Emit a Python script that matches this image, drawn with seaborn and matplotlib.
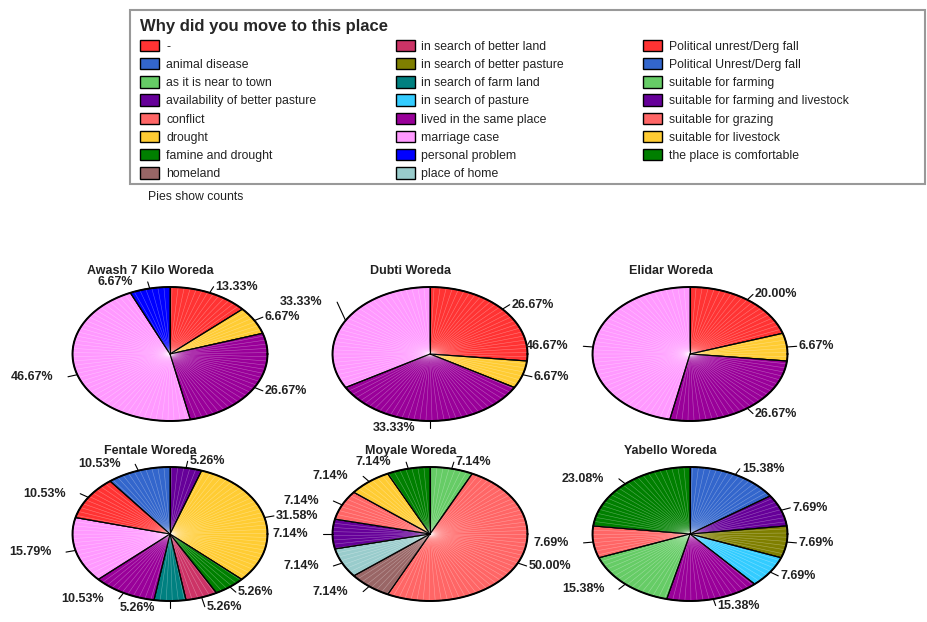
import numpy as np
import matplotlib
matplotlib.use("Agg")
import matplotlib.pyplot as plt
from matplotlib.patches import Patch, Rectangle
from matplotlib.collections import LineCollection
import seaborn as sns

# legend categories (alphabetical, as in the source)
categories = ["-", "animal disease", "as it is near to town", "availability of better pasture",
              "conflict", "drought", "famine and drought", "homeland",
              "in search of better land", "in search of better pasture", "in search of farm land",
              "in search of pasture", "lived in the same place", "marriage case",
              "personal problem", "place of home",
              "Political unrest/Derg fall", "Political Unrest/Derg fall", "suitable for farming",
              "suitable for farming and livestock", "suitable for grazing",
              "suitable for livestock", "the place is comfortable"]
base_colors = ["#FF3333", "#3366CC", "#66CC66", "#660099", "#FF6666", "#FFCC33", "#007F00",
               "#996666", "#CC3366", "#7F7F00", "#008080", "#33CCFF", "#990099", "#FF99FF",
               "#0000FF", "#99CCCC"]

# counts per woreda (pies show counts)
awash_cats = ["-", "drought", "lived in the same place", "marriage case", "personal problem"]
awash_counts = [2, 1, 4, 7, 1]
dubti_cats = ["-", "drought", "lived in the same place", "marriage case"]
dubti_counts = [4, 1, 5, 5]
elidar_cats = ["-", "drought", "lived in the same place", "marriage case"]
elidar_counts = [3, 1, 4, 7]
fentale_cats = ["availability of better pasture", "drought", "famine and drought",
                "in search of better land", "in search of farm land", "lived in the same place",
                "marriage case", "Political unrest/Derg fall", "Political Unrest/Derg fall"]
fentale_counts = [1, 6, 1, 1, 1, 2, 3, 2, 2]
moyale_cats = ["as it is near to town", "conflict", "homeland", "place of home",
               "suitable for farming and livestock", "suitable for grazing",
               "suitable for livestock", "the place is comfortable"]
moyale_counts = [1, 7, 1, 1, 1, 1, 1, 1]
yabello_cats = ["animal disease", "availability of better pasture", "in search of better pasture",
                "in search of pasture", "lived in the same place", "suitable for farming",
                "suitable for grazing", "the place is comfortable"]
yabello_counts = [2, 1, 1, 1, 2, 2, 1, 3]

woredas = ["Awash 7 Kilo Woreda", "Dubti Woreda", "Elidar Woreda",
           "Fentale Woreda", "Moyale Woreda", "Yabello Woreda"]
pie_cats = [awash_cats, dubti_cats, elidar_cats, fentale_cats, moyale_cats, yabello_cats]
pie_counts = [awash_counts, dubti_counts, elidar_counts, fentale_counts, moyale_counts, yabello_counts]

sns.set_theme(style="white")
plt.rcParams["font.family"] = ["Liberation Sans", "DejaVu Sans"]

palette = sns.color_palette(base_colors, n_colors=len(categories))
color_of = dict(zip(categories, palette))

W, H = 927, 622
fig = plt.figure(figsize=(W / 100, H / 100), dpi=100)

# pie layout in pixels
centers_x = [170, 430, 690]
centers_y = [354, 534]
rx, ry = 97.5, 67
lim = 1.6

labels = []
for i, (name, cats, counts) in enumerate(zip(woredas, pie_cats, pie_counts)):
    cx = centers_x[i % 3]
    cy = centers_y[i // 3]
    ax = fig.add_axes([(cx - lim * rx) / W, 1 - (cy + lim * ry) / H,
                       2 * lim * rx / W, 2 * lim * ry / H])
    ax.patch.set_alpha(0)
    wedges, _ = ax.pie(counts, colors=[color_of[c] for c in cats], startangle=90,
                       counterclock=False, radius=1,
                       wedgeprops=dict(edgecolor="black", linewidth=0.8))
    ax.set_aspect("auto")
    ax.set_xlim(-lim, lim)
    ax.set_ylim(-lim, lim)
    ax.axis("off")

    # faint radial shading lines
    segs = []
    for w in wedges:
        for a in np.arange(w.theta1, w.theta2, 3.6):
            t = np.deg2rad(a)
            segs.append([(0, 0), (np.cos(t), np.sin(t))])
    ax.add_collection(LineCollection(segs, colors="white", linewidths=0.4, alpha=0.35))
    for w in wedges:
        t = np.deg2rad(w.theta1)
        ax.plot([0, np.cos(t)], [0, np.sin(t)], color="black", lw=0.8)
    tt = np.linspace(0, 2 * np.pi, 200)
    ax.plot(np.cos(tt), np.sin(tt), color="black", lw=1.4)

    total = sum(counts)
    for w, c in zip(wedges, counts):
        mid = np.deg2rad((w.theta1 + w.theta2) / 2)
        x, y = np.cos(mid), np.sin(mid)
        line, = ax.plot([x, 1.1 * x], [y, 1.1 * y], color="black", lw=0.8)
        if x >= 0.01:
            tx, ha = 1.1 * x + 0.02, "left"
        else:
            tx, ha = 1.1 * x - 0.15, "right"
        txt = ax.text(tx, 1.1 * y, f"{100 * c / total:.2f}%", ha=ha, va="center",
                      fontsize=9, fontweight="bold", color="#222222")
        labels.append((ax, txt, line, x, y))
    ax.text(-0.2, 1.24, name, ha="center", va="center", fontsize=9,
            fontweight="bold", color="#222222")

# nudge labels that collide with ones already placed
renderer = fig.canvas.get_renderer()
placed = []
for ax, txt, line, ux, uy in labels:
    bb = txt.get_window_extent(renderer).padded(1)
    shift = 0
    while any(bb.translated(0, shift).overlaps(p) for p in placed) and abs(shift) < 40:
        shift += 1 if uy >= 0 else -1
    if shift:
        dy = shift / ax.bbox.height * (2 * lim)
        tx, ty = txt.get_position()
        txt.set_position((tx, ty + dy))
        line.set_data([ux, 1.1 * ux], [uy, 1.1 * uy + dy])
    placed.append(bb.translated(0, shift))

# legend
handles = [Patch(facecolor=color_of[c], edgecolor="black", linewidth=1) for c in categories]
leg = fig.legend(handles, categories, ncol=3, loc="upper left",
                 bbox_to_anchor=(138 / W, 1 - 17 / H), frameon=False,
                 title="Why did you move to this place", alignment="left",
                 fontsize=8.8, handlelength=1.55, handleheight=1.05, handletextpad=0.55,
                 labelspacing=0.44, columnspacing=6.5, borderaxespad=0, borderpad=0.2)
leg.get_title().set_fontweight("bold")
leg.get_title().set_fontsize(12)
for t in leg.get_texts():
    t.set_color("#222222")
fig.patches.append(Rectangle((130 / W, 1 - 184 / H), 795 / W, 174 / H, transform=fig.transFigure,
                             facecolor="none", edgecolor="#999999", linewidth=1.5))
fig.text(148 / W, 1 - 197 / H, "Pies show counts", fontsize=8.8, va="center", color="#222222")

fig.savefig("out.png", dpi=100)
